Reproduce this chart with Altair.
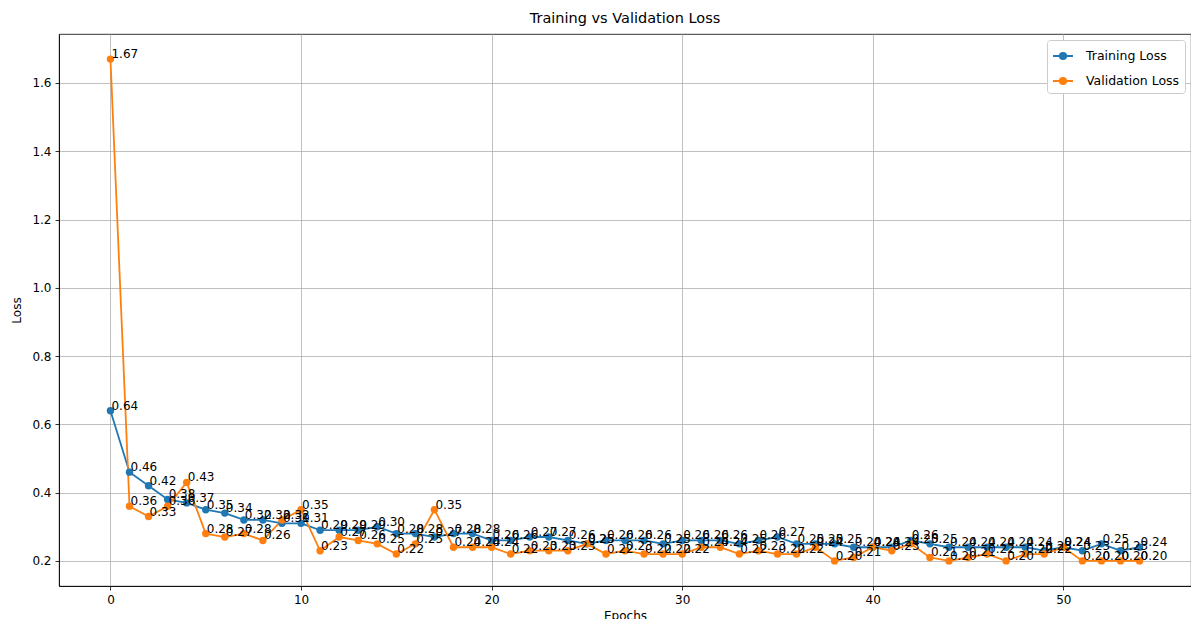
import altair as alt
import pandas as pd

epochs = list(range(55))
train_loss = [0.64, 0.46, 0.42, 0.38, 0.37, 0.35, 0.34, 0.32, 0.32, 0.31,
              0.31, 0.29, 0.29, 0.29, 0.30, 0.28, 0.28, 0.27, 0.28, 0.28,
              0.26, 0.26, 0.27, 0.27, 0.26, 0.25, 0.26, 0.26, 0.26, 0.25,
              0.26, 0.26, 0.26, 0.25, 0.26, 0.27, 0.25, 0.25, 0.25, 0.24,
              0.24, 0.24, 0.26, 0.25, 0.24, 0.24, 0.24, 0.24, 0.24, 0.23,
              0.24, 0.23, 0.25, 0.23, 0.24]
val_loss = [1.67, 0.36, 0.33, 0.36, 0.43, 0.28, 0.27, 0.28, 0.26, 0.32,
            0.35, 0.23, 0.27, 0.26, 0.25, 0.22, 0.25, 0.35, 0.24, 0.24,
            0.24, 0.22, 0.23, 0.23, 0.23, 0.25, 0.22, 0.23, 0.22, 0.22,
            0.22, 0.24, 0.24, 0.22, 0.23, 0.22, 0.22, 0.24, 0.20, 0.21,
            0.24, 0.23, 0.25, 0.21, 0.20, 0.21, 0.22, 0.20, 0.22, 0.22,
            0.24, 0.20, 0.20, 0.20, 0.20]
series_names = ["Training Loss", "Validation Loss"]
series_colors = ["#1f77b4", "#ff7f0e"]
x_ticks = [0, 10, 20, 30, 40, 50]
y_ticks = [0.2, 0.4, 0.6, 0.8, 1.0, 1.2, 1.4, 1.6]

rows = []
for e, t in zip(epochs, train_loss):
    rows.append({"epoch": e, "loss": t, "series": series_names[0], "order": 0})
for e, v in zip(epochs, val_loss):
    rows.append({"epoch": e, "loss": v, "series": series_names[1], "order": 1})
df = pd.DataFrame(rows)

FONT = "DejaVu Sans"
legend_symbol = ("M-1,0L1,0M-0.32,0A0.32,0.32 0 1,1 0.32,0"
                 "A0.32,0.32 0 1,1 -0.32,0Z")

x = alt.X("epoch:Q", title="Epochs",
          scale=alt.Scale(domain=[-2.7, 56.7], nice=False, zero=False),
          axis=alt.Axis(values=x_ticks, format="d", grid=True))
y = alt.Y("loss:Q", title="Loss",
          scale=alt.Scale(domain=[0.1265, 1.7435], nice=False, zero=False),
          axis=alt.Axis(values=y_ticks, format=".1f", grid=True))
color = alt.Color("series:N",
                  scale=alt.Scale(domain=series_names, range=series_colors),
                  legend=alt.Legend(title=None, orient="top-right",
                                    offset=6, symbolType=legend_symbol,
                                    symbolSize=400, symbolStrokeWidth=1.8,
                                    labelFontSize=12.5, labelFont=FONT,
                                    rowPadding=7, padding=5,
                                    strokeColor="#cccccc", fillColor="white",
                                    cornerRadius=3, labelColor="#000000",
                                    labelOffset=12))

lines = alt.Chart(df).mark_line(point=alt.OverlayMarkDef(size=55, filled=True, opacity=1),
                                strokeWidth=1.8).encode(
    x=x, y=y, color=color, detail="series:N")

labels = alt.Chart(df).mark_text(align="left", baseline="alphabetic",
                                 dx=1, dy=-1, fontSize=12, font=FONT,
                                 color="#000000").encode(
    x=x, y=y, text=alt.Text("loss:Q", format=".2f"))

chart = alt.layer(lines, labels).properties(
    width=1132, height=552,
    background="white",
    title=alt.TitleParams("Training vs Validation Loss", fontSize=14.5,
                          font=FONT, fontWeight="normal", color="#000000",
                          offset=8),
    autosize=alt.AutoSizeParams(type="none"),
    padding={"left": 51, "top": 26, "right": 0, "bottom": 33},
).configure_axis(
    labelFont=FONT, labelFontSize=12, labelColor="#000000",
    titleFont=FONT, titleFontSize=12, titleColor="#000000",
    titleFontWeight="normal",
    gridColor="#b0b0b0", gridWidth=0.8, gridOpacity=1,
    domainColor="#000000", domainWidth=0.8,
    tickColor="#000000", tickSize=4, tickWidth=0.8,
    labelPadding=4,
).configure_axisX(titlePadding=5).configure_axisY(titlePadding=8).configure_view(
    stroke="#000000", strokeWidth=0.8
)

chart.save("out.html", embed_options={"renderer": "svg", "actions": False})
